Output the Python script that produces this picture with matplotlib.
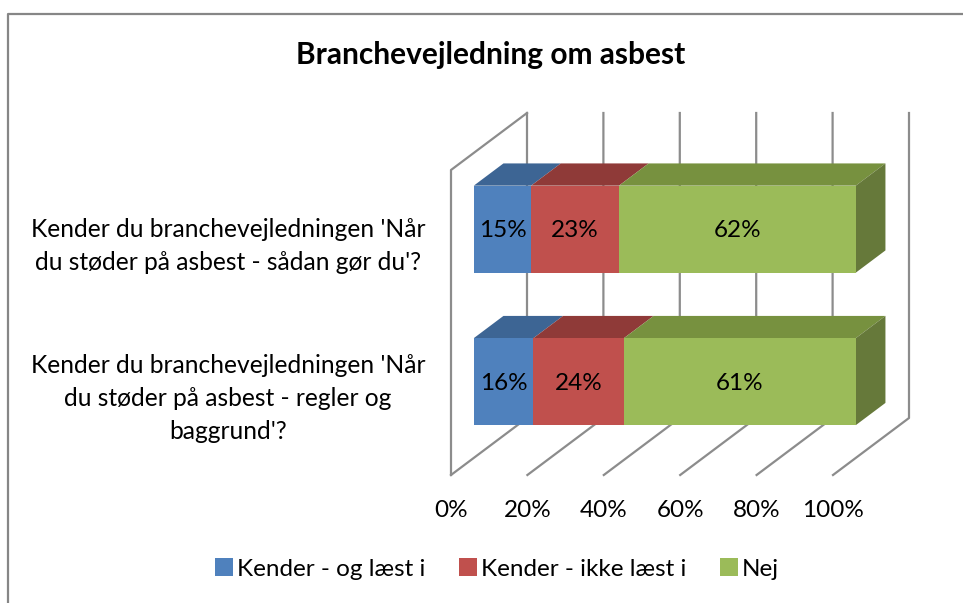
import matplotlib
matplotlib.use("Agg")
import matplotlib.pyplot as plt
from matplotlib.lines import Line2D
from matplotlib.patches import Patch

plt.rcParams['font.family'] = ['Lato', 'DejaVu Sans']

# Data (bottom bar first, percent of each row)
categories = [
    "Kender du branchevejledningen 'Når\ndu støder på asbest - regler og\nbaggrund'?",
    "Kender du branchevejledningen 'Når\ndu støder på asbest - sådan gør du'?",
]
series_names = ["Kender - og læst i", "Kender - ikke læst i", "Nej"]
kender_laest = [15.6, 15.0]
kender_ikke = [23.7, 23.0]
nej = [60.7, 62.0]
x_ticks = [0, 20, 40, 60, 80, 100]

W, H = 963, 603
fig = plt.figure(figsize=(W / 100, H / 100), dpi=100)

# Axes: x runs in percent along the front floor edge, y in pixels above it
x0, x1, floor, wall_top = 451, 833, 475, 170
ax = fig.add_axes([x0 / W, 1 - floor / H, (x1 - x0) / W, (floor - wall_top) / H])
ax.set_xlim(0, 100)
ax.set_ylim(0, floor - wall_top)
for s in ax.spines.values():
    s.set_visible(False)
ax.patch.set_alpha(0)
ax.set_yticks([])
ax.set_xticks(x_ticks)
ax.set_xticklabels([f"{t}%" for t in x_ticks], fontsize=17.5, color="black")
ax.tick_params(axis="x", length=0, pad=18)

# Oblique projection of the depth direction
px = (x1 - x0) / 100
depth_x, depth_y = 76, 57


def proj(x, y, d):
    return x + d * depth_x / px, y + d * depth_y


# Walls and floor gridlines
grid_col = "#8c8c8c"
for t in x_ticks:
    xa, ya = proj(t, 0, 0)
    xb, yb = proj(t, 0, 1)
    xc, yc = proj(t, floor - wall_top, 1)
    ax.plot([xa, xb, xc], [ya, yb, yc], color=grid_col, lw=1.6, clip_on=False, zorder=1)
ax.plot(*zip(proj(0, 0, 0), proj(0, floor - wall_top, 0), proj(0, floor - wall_top, 1)),
        color=grid_col, lw=1.6, clip_on=False, zorder=1)

# Stacked 3D bars
face = ["#4f81bd", "#c0504d", "#9bbb59"]
top = ["#3d6594", "#8f3a38", "#77913f"]
side = "#66793a"
d0, d1 = 0.30, 0.69
slot = (floor - wall_top) / len(categories)
bar_h = 87
series = [kender_laest, kender_ikke, nej]

for i in range(len(categories)):
    yc = (i + 0.5) * slot
    lo, hi = yc - bar_h / 2, yc + bar_h / 2
    left = 0
    for k, vals in enumerate(series):
        right = left + vals[i]
        # top face
        ax.fill(*zip(proj(left, hi, d0), proj(right, hi, d0), proj(right, hi, d1), proj(left, hi, d1)),
                color=top[k], lw=0, clip_on=False, zorder=3)
        # front face
        ax.fill(*zip(proj(left, lo, d0), proj(right, lo, d0), proj(right, hi, d0), proj(left, hi, d0)),
                color=face[k], lw=0, clip_on=False, zorder=4)
        lx, ly = proj((left + right) / 2, yc, d0)
        ax.text(lx, ly - 1.5, f"{vals[i]:.0f}%", ha="center", va="center", fontsize=17.5,
                color="black", zorder=5)
        left = right
    # right side of the last segment
    ax.fill(*zip(proj(left, lo, d0), proj(left, lo, d1), proj(left, hi, d1), proj(left, hi, d0)),
            color=side, lw=0, clip_on=False, zorder=3)

# Category labels, centred in the left margin on the front plane
for i, cat in enumerate(categories):
    ly = (i + 0.5) * slot
    fig.text(228 / W, 1 - (floor - ly) / H, cat, ha="center", va="center", fontsize=17.7,
             linespacing=1.53, color="black")

fig.text(491 / W, 1 - 55 / H, "Branchevejledning om asbest", ha="center", va="center",
         fontsize=21.5, fontweight="bold", color="black")

# Legend
handles = [Patch(facecolor=c, edgecolor="none") for c in face]
fig.legend(handles, series_names, ncol=3, loc="center", bbox_to_anchor=(497 / W, 1 - 569 / H),
           frameon=False, fontsize=17.5, handlelength=0.75, handleheight=0.75,
           handletextpad=0.14, columnspacing=1.4, borderpad=0)

# Chart frame, cut off by the image edge
fig.add_artist(Line2D([8 / W, 8 / W, 1], [0, 1 - 14 / H, 1 - 14 / H], color="#868686", lw=1.6,
                      transform=fig.transFigure))

fig.savefig("out.png", dpi=100)
